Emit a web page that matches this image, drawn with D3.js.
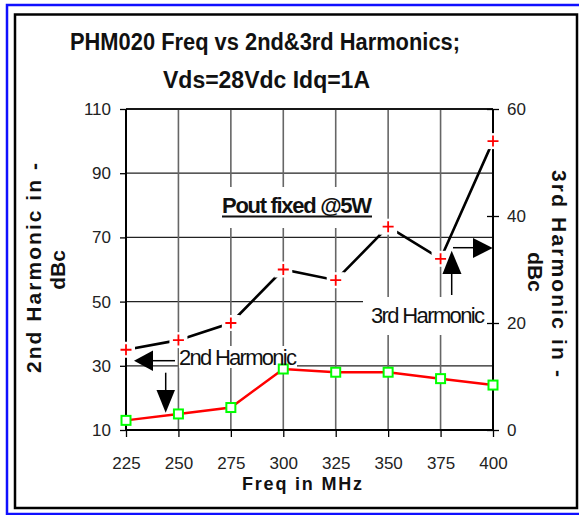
<!DOCTYPE html>
<html><head><meta charset="utf-8">
<script src="https://cdn.jsdelivr.net/npm/d3@7"></script>
<style>
html,body{margin:0;padding:0;background:#fff;}
text{font-family:"Liberation Sans",Arial,sans-serif;}
</style></head>
<body><svg id="c" width="579" height="515"></svg>
<script>
const freqs = ["225","250","275","300","325","350","375","400"];
const second = [13, 15, 17, 29, 28, 28, 26, 24];          // 2nd harmonic, left axis (dBc)
const third  = [15, 16.8, 20, 30, 28, 38, 32, 54];         // 3rd harmonic, right axis (dBc)
const leftTicks = [10, 30, 50, 70, 90, 110];
const rightTicks = [0, 20, 40, 60];
const titleLines = ["PHM020 Freq vs 2nd&3rd Harmonics;", "Vds=28Vdc Idq=1A"];

const svg = d3.select("#c");
const L = 126, R = 493, T = 109, B = 430;
const x = d3.scalePoint().domain(freqs).range([L, R]);
const yL = d3.scaleLinear().domain([10, 110]).range([B, T]);
const yR = d3.scaleLinear().domain([0, 60]).range([B, T]);

// frames
svg.append("rect").attr("x",0).attr("y",0).attr("width",579).attr("height",515).attr("fill","#fff");
svg.append("rect").attr("x",7).attr("y",5).attr("width",600).attr("height",509)
  .attr("fill","none").attr("stroke","#1010ff").attr("stroke-width",2.5);
svg.append("rect").attr("x",15).attr("y",14.5).attr("width",562).attr("height",493.5)
  .attr("fill","none").attr("stroke","#000").attr("stroke-width",2.5);

// title
svg.selectAll("text.title").data(titleLines).join("text").attr("class","title")
  .attr("x",(d,i)=> i===0?265:266.5).attr("y",(d,i)=> i===0?50:88)
  .attr("text-anchor","middle").attr("font-size",23).attr("font-weight","bold")
  .attr("fill","#111")
  .attr("textLength",(d,i)=> i===0?390:207).attr("lengthAdjust","spacingAndGlyphs")
  .text(d=>d);

// gridlines
const g = svg.append("g");
g.selectAll("line.hg").data(leftTicks.slice(1)).join("line").attr("class","hg")
  .attr("x1",L).attr("x2",R).attr("y1",d=>yL(d)).attr("y2",d=>yL(d))
  .attr("stroke","#222").attr("stroke-width",1.3);
g.selectAll("line.vg").data(freqs.slice(1,-1)).join("line").attr("class","vg")
  .attr("x1",d=>x(d)).attr("x2",d=>x(d)).attr("y1",T).attr("y2",B)
  .attr("stroke","#666").attr("stroke-width",1.6);

// annotation white boxes (hide gridlines)
const boxes = [[215,187,165,41],[363,297,129,38],[179,346,118,22]];
svg.selectAll("rect.box").data(boxes).join("rect").attr("class","box")
  .attr("x",d=>d[0]).attr("y",d=>d[1]).attr("width",d=>d[2]).attr("height",d=>d[3]).attr("fill","#fff");

// axes
const axL = svg.append("g").attr("transform",`translate(${L},0)`)
  .call(d3.axisLeft(yL).tickValues(leftTicks).tickSize(6).tickPadding(9));
const axR = svg.append("g").attr("transform",`translate(${R},0)`)
  .call(d3.axisRight(yR).tickValues(rightTicks).tickSize(6).tickPadding(8));
axR.selectAll(".tick line").attr("x1",-6);
const axB = svg.append("g").attr("transform",`translate(0,${B})`)
  .call(d3.axisBottom(x).tickSize(7).tickPadding(20));
[axL,axR,axB].forEach(a=>{
  a.select(".domain").attr("stroke","#000").attr("stroke-width",2);
  a.selectAll(".tick line").attr("stroke","#000").attr("stroke-width",1.3);
  a.selectAll("text").attr("font-size",17).attr("fill","#222")
    .attr("font-family","'Liberation Sans',Arial,sans-serif");
});
axL.select(".domain").attr("d",`M0,${T}V${B}`);
axR.select(".domain").attr("d",`M0,${T}V${B}`);
axB.select(".domain").attr("d",`M${L},0H${R}`);
svg.append("line").attr("x1",L).attr("x2",R).attr("y1",T).attr("y2",T).attr("stroke","#000").attr("stroke-width",1.5);

// series 2nd harmonic (red line, green squares)
const d2 = freqs.map((f,i)=>({f, v:second[i]}));
const d3s = freqs.map((f,i)=>({f, v:third[i]}));
svg.append("path").datum(d2).attr("fill","none").attr("stroke","#ff0000").attr("stroke-width",2.5)
  .attr("d", d3.line().x(d=>x(d.f)).y(d=>yL(d.v)));
svg.selectAll("rect.sq").data(d2).join("rect").attr("class","sq")
  .attr("x",d=>x(d.f)-4.5).attr("y",d=>yL(d.v)-4.5).attr("width",9).attr("height",9)
  .attr("fill","#fff").attr("stroke","#00ff00").attr("stroke-width",2);

// series 3rd harmonic (black line, red + markers)
svg.append("path").datum(d3s).attr("fill","none").attr("stroke","#000").attr("stroke-width",2.6)
  .attr("d", d3.line().x(d=>x(d.f)).y(d=>yR(d.v)));
svg.selectAll("rect.pb").data(d3s).join("rect").attr("class","pb")
  .attr("x",d=>x(d.f)-9).attr("y",d=>yR(d.v)-8).attr("width",18).attr("height",16).attr("fill","#fff");
svg.selectAll("path.plus").data(d3s).join("path").attr("class","plus")
  .attr("d",d=>{const cx=x(d.f), cy=yR(d.v); return `M${cx-5.5},${cy}H${cx+5.5}M${cx},${cy-5.5}V${cy+5.5}`;})
  .attr("stroke","#ff0000").attr("stroke-width",1.8).attr("fill","none");

// annotations
const ann = svg.append("g");
ann.append("text").attr("x",222).attr("y",213).attr("font-size",22).attr("font-weight","bold")
  .attr("fill","#111").attr("textLength",150).attr("lengthAdjust","spacing").text("Pout fixed  @5W");
ann.append("line").attr("x1",222).attr("x2",372).attr("y1",216.5).attr("y2",216.5).attr("stroke","#111").attr("stroke-width",1.8);
ann.append("text").attr("x",179).attr("y",365).attr("font-size",22)
  .attr("fill","#111").attr("textLength",118).attr("lengthAdjust","spacing").text("2nd Harmonic");
ann.append("text").attr("x",371).attr("y",323).attr("font-size",22)
  .attr("fill","#111").attr("textLength",114).attr("lengthAdjust","spacing").text("3rd Harmonic");
const arrowLines = [[175,360.7,150,360.7],[165.7,372.7,165.7,391],[451.7,295,451.7,273],[453,247.7,474,247.7]];
ann.selectAll("line.ar").data(arrowLines).join("line").attr("class","ar")
  .attr("x1",d=>d[0]).attr("y1",d=>d[1]).attr("x2",d=>d[2]).attr("y2",d=>d[3])
  .attr("stroke","#000").attr("stroke-width",1.5);
const heads = [
  [[134,360.7],[153,350.5],[153,371]],
  [[165.7,412.7],[156.5,390],[175,390]],
  [[451.7,250.7],[442.5,274],[461.5,274]],
  [[492.7,248],[473,238],[473,258]]
];
ann.selectAll("polygon").data(heads).join("polygon")
  .attr("points",d=>d.map(p=>p.join(",")).join(" ")).attr("fill","#000");

// axis titles
const at = svg.append("g").attr("font-weight","bold").attr("fill","#111");
at.append("text").attr("transform","translate(41,268) rotate(-90)").attr("text-anchor","middle")
  .attr("font-size",21).attr("textLength",210).attr("lengthAdjust","spacing").text("2nd Harmonic in -");
at.append("text").attr("transform","translate(65,270) rotate(-90)").attr("text-anchor","middle")
  .attr("font-size",21).text("dBc");
at.append("text").attr("transform","translate(552,273.5) rotate(90)").attr("text-anchor","middle")
  .attr("font-size",21).attr("textLength",207).attr("lengthAdjust","spacing").text("3rd Harmonic in -");
at.append("text").attr("transform","translate(528,272) rotate(90)").attr("text-anchor","middle")
  .attr("font-size",21).text("dBc");
at.append("text").attr("x",302).attr("y",490).attr("text-anchor","middle")
  .attr("font-size",18).attr("textLength",120).attr("lengthAdjust","spacing").text("Freq in MHz");
</script></body></html>
